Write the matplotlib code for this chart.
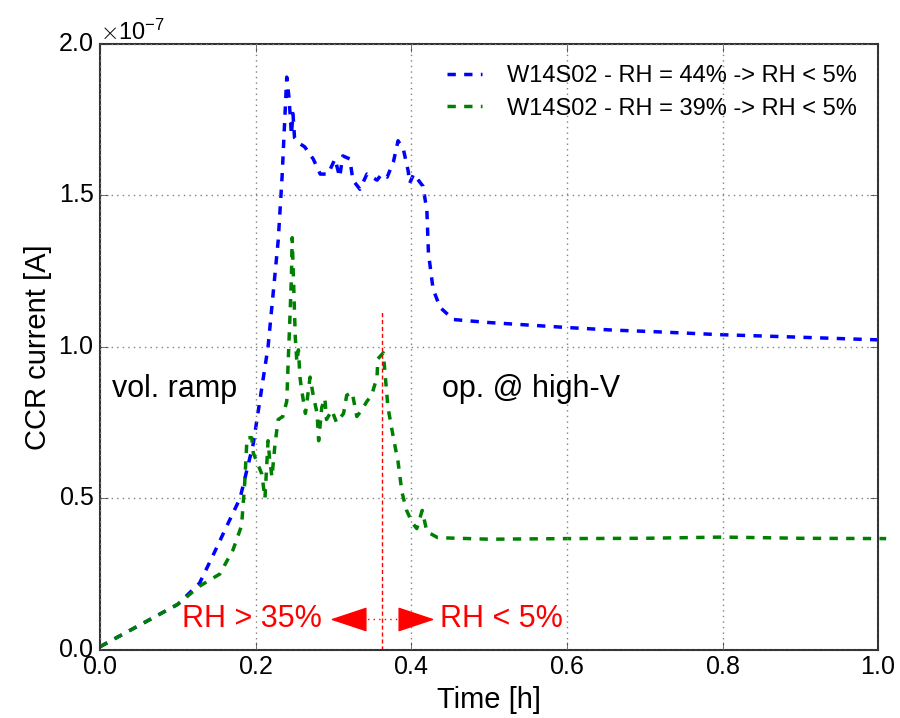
import numpy as np
import matplotlib
matplotlib.use('Agg')
import matplotlib.pyplot as plt

# CCR current (units of 1e-7 A) vs time [h]
t_blue = [0.0, 0.05, 0.10, 0.128, 0.145, 0.167, 0.18, 0.197, 0.216, 0.229, 0.234,
          0.240, 0.243, 0.246, 0.248, 0.250, 0.257, 0.263, 0.274, 0.283, 0.293,
          0.302, 0.308, 0.312, 0.321, 0.325, 0.334, 0.343, 0.356, 0.362, 0.369,
          0.377, 0.383, 0.390, 0.396, 0.398, 0.403, 0.415, 0.420, 0.422, 0.428,
          0.437, 0.454, 0.5, 0.604, 0.66, 0.711, 0.797, 0.883, 1.01]
i_blue = [0.01, 0.08, 0.15, 0.22, 0.31, 0.43, 0.50, 0.68, 1.0, 1.35, 1.56,
          1.89, 1.82, 1.70, 1.77, 1.69, 1.67, 1.66, 1.62, 1.57, 1.57,
          1.62, 1.56, 1.63, 1.62, 1.55, 1.52, 1.57, 1.55, 1.57, 1.56,
          1.61, 1.68, 1.65, 1.58, 1.54, 1.57, 1.53, 1.45, 1.31, 1.19,
          1.13, 1.09, 1.08, 1.063, 1.055, 1.05, 1.04, 1.033, 1.022]

t_green = [0.0, 0.05, 0.10, 0.128, 0.154, 0.171, 0.182, 0.186, 0.189, 0.195, 0.197,
           0.208, 0.212, 0.216, 0.218, 0.221, 0.225, 0.229, 0.235, 0.240, 0.242,
           0.244, 0.246, 0.247, 0.251, 0.253, 0.255, 0.257, 0.259, 0.264, 0.266,
           0.270, 0.274, 0.279, 0.281, 0.285, 0.289, 0.291, 0.298, 0.304, 0.313,
           0.317, 0.324, 0.330, 0.336, 0.343, 0.349, 0.356, 0.357, 0.364, 0.366,
           0.370, 0.377, 0.383, 0.388, 0.394, 0.401, 0.407, 0.414, 0.420, 0.434,
           0.5, 0.6, 0.7, 0.8, 0.9, 1.01]
i_green = [0.01, 0.08, 0.15, 0.21, 0.25, 0.33, 0.41, 0.55, 0.70, 0.70, 0.65,
           0.58, 0.50, 0.69, 0.63, 0.57, 0.68, 0.76, 0.77, 0.82, 0.96,
           1.09, 1.23, 1.36, 1.03, 0.95, 0.99, 0.90, 0.86, 0.78, 0.82,
           0.90, 0.84, 0.78, 0.69, 0.80, 0.83, 0.76, 0.79, 0.75, 0.78,
           0.84, 0.85, 0.77, 0.79, 0.82, 0.84, 0.90, 0.96, 0.98, 0.92,
           0.80, 0.70, 0.62, 0.52, 0.46, 0.42, 0.40, 0.46, 0.39, 0.37,
           0.365, 0.367, 0.368, 0.372, 0.368, 0.367]

labels = ['W14S02 - RH = 44% -> RH < 5%', 'W14S02 - RH = 39% -> RH < 5%']
scale = 1e-7
t_switch = 0.362
y_arrow = 0.1e-7
# arrowhead base / tip positions along the time axis
left_base, left_tip = 0.337, 0.296
right_base, right_tip = 0.388, 0.430

plt.style.use('classic')
plt.rcParams['font.family'] = ['Liberation Sans', 'DejaVu Sans']
plt.rcParams['axes.formatter.use_mathtext'] = True

fig = plt.figure(figsize=(9, 7.18), dpi=100, facecolor='white')
ax = fig.add_axes([0.111, 0.095, 0.865, 0.844])

ax.plot(t_blue, np.array(i_blue) * scale, '--', color='blue', lw=2.5,
        label=labels[0], clip_on=False)
ax.plot(t_green, np.array(i_green) * scale, '--', color='green', lw=2.5,
        label=labels[1], clip_on=False)

# humidity switch marker
ax.plot([t_switch, t_switch], [0, 1.12e-7], '--', color='red', lw=1, dashes=(3, 2))
ax.plot([left_base, right_base], [y_arrow, y_arrow], ':', color='red', lw=1)
head = dict(arrowstyle='-|>,head_length=1.2,head_width=0.4', color='red',
            lw=1, mutation_scale=20, shrinkA=0, shrinkB=0)
ax.annotate('', xy=(left_tip, y_arrow), xytext=(left_base, y_arrow), arrowprops=head)
ax.annotate('', xy=(right_tip, y_arrow), xytext=(right_base, y_arrow), arrowprops=head)
ax.text(0.285, y_arrow, 'RH > 35%', color='red', fontsize=22, ha='right', va='center')
ax.text(0.437, y_arrow, 'RH < 5%', color='red', fontsize=22, ha='left', va='center')

ax.text(0.015, 0.86e-7, 'vol. ramp', fontsize=22, va='center')
ax.text(0.44, 0.86e-7, 'op. @ high-V', fontsize=22, va='center')

ax.set_xlim(0, 1.0)
ax.set_ylim(0, 2.0e-7)
ax.set_xticks(np.arange(0, 1.01, 0.2))
ax.set_yticks(np.arange(0, 2.01e-7, 0.5e-7))
ax.grid(True, linestyle=':', color='gray', lw=1)
ax.tick_params(labelsize=18, length=6, color='#333333')
ax.yaxis.get_offset_text().set_fontsize(17)
for s in ax.spines.values():
    s.set_color('#333333')
    s.set_linewidth(1.5)

ax.set_xlabel('Time [h]', fontsize=21)
ax.set_ylabel('CCR current [A]', fontsize=21)

ax.legend(loc='upper right', frameon=False, fontsize=17, handlelength=2.1,
          handletextpad=0.75, borderaxespad=0.5, labelspacing=0.45)

fig.savefig('out.png', dpi=100, facecolor='white')
